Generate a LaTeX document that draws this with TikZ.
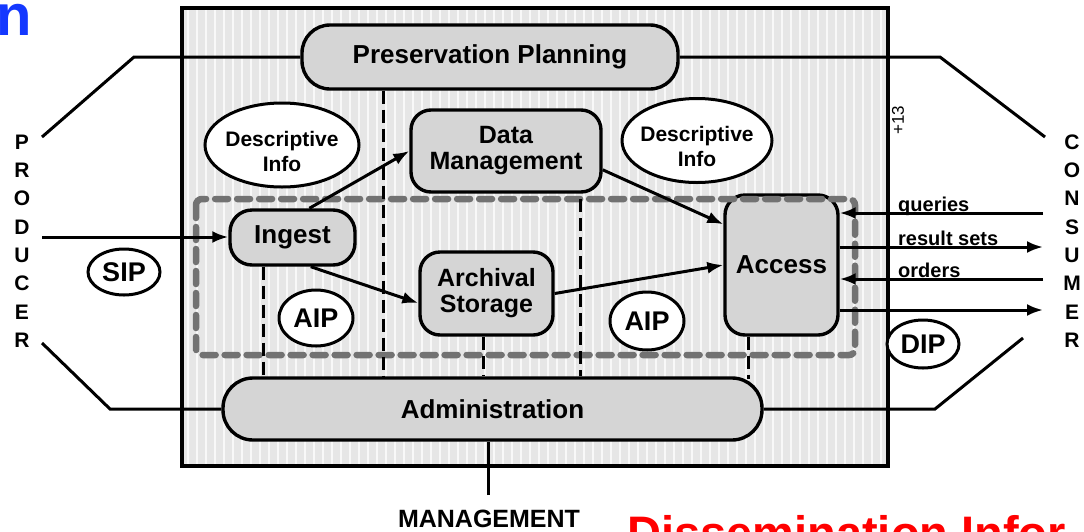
\documentclass[tikz,border=0pt]{standalone}
\usepackage{fontspec}
\setmainfont{Liberation Sans}
\usetikzlibrary{arrows.meta,shapes.geometric}
\definecolor{boxgray}{HTML}{D5D5D5}
\definecolor{bggray}{HTML}{E6E6E6}
\definecolor{dashgray}{HTML}{727272}
\definecolor{titleblue}{HTML}{1438FF}
\definecolor{titlered}{HTML}{FF0000}
\newcommand{\myfs}[2]{\fontsize{#1}{#2}\selectfont}
\begin{document}
\begin{tikzpicture}[x=1pt,y=-1pt,
  box/.style={draw, line width=3.4pt, fill=boxgray, rounded corners=#1, align=center, inner sep=0pt, font=\bfseries\myfs{26}{28}},
  box/.default=20pt,
  oval/.style={ellipse, draw, line width=3pt, fill=white, inner sep=0pt, font=\bfseries\myfs{27}{28}},
  txt/.style={font=\bfseries\myfs{21}{25}, align=center, inner sep=0pt},
  conn/.style={line width=3pt},
  arr/.style={line width=3pt, -{Latex[length=16pt,width=12pt]}},
  vd/.style={line width=3pt, dash pattern=on 13pt off 6pt},
  gd/.style={draw=dashgray, line width=6.5pt, dash pattern=on 13pt off 9pt, line cap=round, rounded corners=6pt},
  letter/.style={font=\bfseries\myfs{21}{21}, inner sep=0pt},
  lab/.style={font=\bfseries\myfs{20}{20}, inner sep=0pt, anchor=base west}
]
\useasboundingbox (0,0) rectangle (1084,531);
\clip (0,0) rectangle (1084,531);
\fill[white] (0,0) rectangle (1084,531);
% frame background with stripes
\fill[bggray] (182,8) rectangle (888,466);
\foreach \i in {0,...,77} \draw[white, line width=2.5pt, opacity=0.75] (188+9*\i,10) -- (188+9*\i,464);
\draw[line width=3.6pt] (182,8) rectangle (888,466);

% titles (clipped)
\node[font=\bfseries\myfs{58}{58}, text=titleblue, anchor=base west, inner sep=0pt] (tn) at (-4,35) {n};
\node[font=\bfseries\myfs{47}{47}, text=titlered, anchor=base west, inner sep=0pt] (tr) at (627,549) {Dissemination Infor};

% boxes
\node[box=28pt, minimum width=376pt, minimum height=64pt] (pp) at (490,57) {Preservation Planning};
\node[box=22pt, minimum width=125pt, minimum height=55pt] (ing) at (292.5,237.5) {Ingest};
\node[box, minimum width=190pt, minimum height=82pt, font=\bfseries\myfs{25}{26}] (dm) at (506,151) {Data\\Management};
\node[box, minimum width=133pt, minimum height=83pt, font=\bfseries\myfs{25}{26}] (arch) at (486.5,293.5) {Archival\\Storage};
\node[box, minimum width=113pt, minimum height=140pt] (acc) at (781.5,265) {Access};
\node[box=30pt, minimum width=539pt, minimum height=62pt] (adm) at (492.5,409) {Administration};

% ovals
\node[oval, minimum width=154pt, minimum height=84pt] (dl) at (282,145) {};
\node[txt] (dlt) at ([yshift=-6pt]dl.center) {Descriptive\\Info};
\node[oval, minimum width=150pt, minimum height=84pt] (dr) at (697,140.5) {};
\node[txt] (drt) at ([yshift=-6pt]dr.center) {Descriptive\\Info};
\node[oval, minimum width=72pt, minimum height=46pt] (sip) at (124,272) {SIP};
\node[oval, minimum width=74pt, minimum height=56pt] (aipl) at (316,318) {AIP};
\node[oval, minimum width=74pt, minimum height=58pt] (aipr) at (647,321) {AIP};
\node[oval, minimum width=72pt, minimum height=48pt] (dip) at (923,344) {DIP};

% outer connectors
\coordinate (ptop) at (42,137);
\coordinate (pk1) at (134,57);
\coordinate (ctop) at (1045,137);
\coordinate (ck1) at (940,57);
\coordinate (pbot) at (42,343);
\coordinate (pk2) at (110,409);
\coordinate (cbot) at (1023,338);
\coordinate (ck2) at (935,409);
\coordinate (mg) at (488,495);
\draw[conn] (ptop) -- (pk1) -- (pp.west);
\draw[conn] (pp.east) -- (ck1) -- (ctop);
\draw[conn] (pbot) -- (pk2) -- (adm.west);
\draw[conn] (adm.east) -- (ck2) -- (cbot);
\draw[conn] (mg) -- (mg |- adm.south);
\node[font=\bfseries\myfs{25}{25}, anchor=base, inner sep=0pt] (mgt) at (489,527) {MANAGEMENT};

% gray dashed package boundary
\draw[gd] (196,199) rectangle (855,355);

% vertical dashed lines
\coordinate (v1) at (383,0);
\coordinate (v2) at (263,0);
\coordinate (v3) at (483,0);
\coordinate (v4) at (580,199);
\coordinate (v5) at (748,0);
\draw[vd] (v1 |- pp.south) -- (v1 |- adm.north);
\draw[vd] (v2 |- ing.south) -- (v2 |- adm.north);
\draw[vd] (v3 |- arch.south) -- (v3 |- adm.north);
\draw[vd] (v4) -- (v4 |- adm.north);
\draw[vd] (v5 |- acc.south) -- ([yshift=-3pt]v5 |- adm.north);

% arrows
\coordinate (pin) at (42,237);
\draw[arr] (pin) -- (pin -| ing.west);
\draw[arr] (ing.60) -- (dm.west);
\draw[arr] (ing.-58) -- (arch.188);
\draw[arr] (dm.-11) -- (acc.145);
\draw[arr] (arch.east) -- (acc.west);

\coordinate (cq) at (1043,213);
\coordinate (cr) at (1043,247);
\coordinate (co) at (1043,279);
\coordinate (cd) at (1043,310);
\draw[arr] (cq) -- (cq -| acc.east);
\draw[arr] (acc.east |- cr) -- (cr);
\draw[arr] (co) -- (co -| acc.east);
\draw[arr] (acc.east |- cd) -- (cd);
\node[lab] (lq) at (898,211) {queries};
\node[lab] (lr) at (898,245) {result sets};
\node[lab] (lo) at (898,277) {orders};

% side letters
\foreach \l [count=\k from 0] in {P,R,O,D,U,C,E,R}
  \node[letter] (prod\k) at (22,142+28.3*\k) {\l};
\foreach \l [count=\k from 0] in {C,O,N,S,U,M,E,R}
  \node[letter] (cons\k) at (1072,142+28.3*\k) {\l};

% small scan mark
\node[font=\myfs{17}{17}, rotate=90, inner sep=0pt] (mark) at (898,120) {+13};
\end{tikzpicture}
\end{document}
